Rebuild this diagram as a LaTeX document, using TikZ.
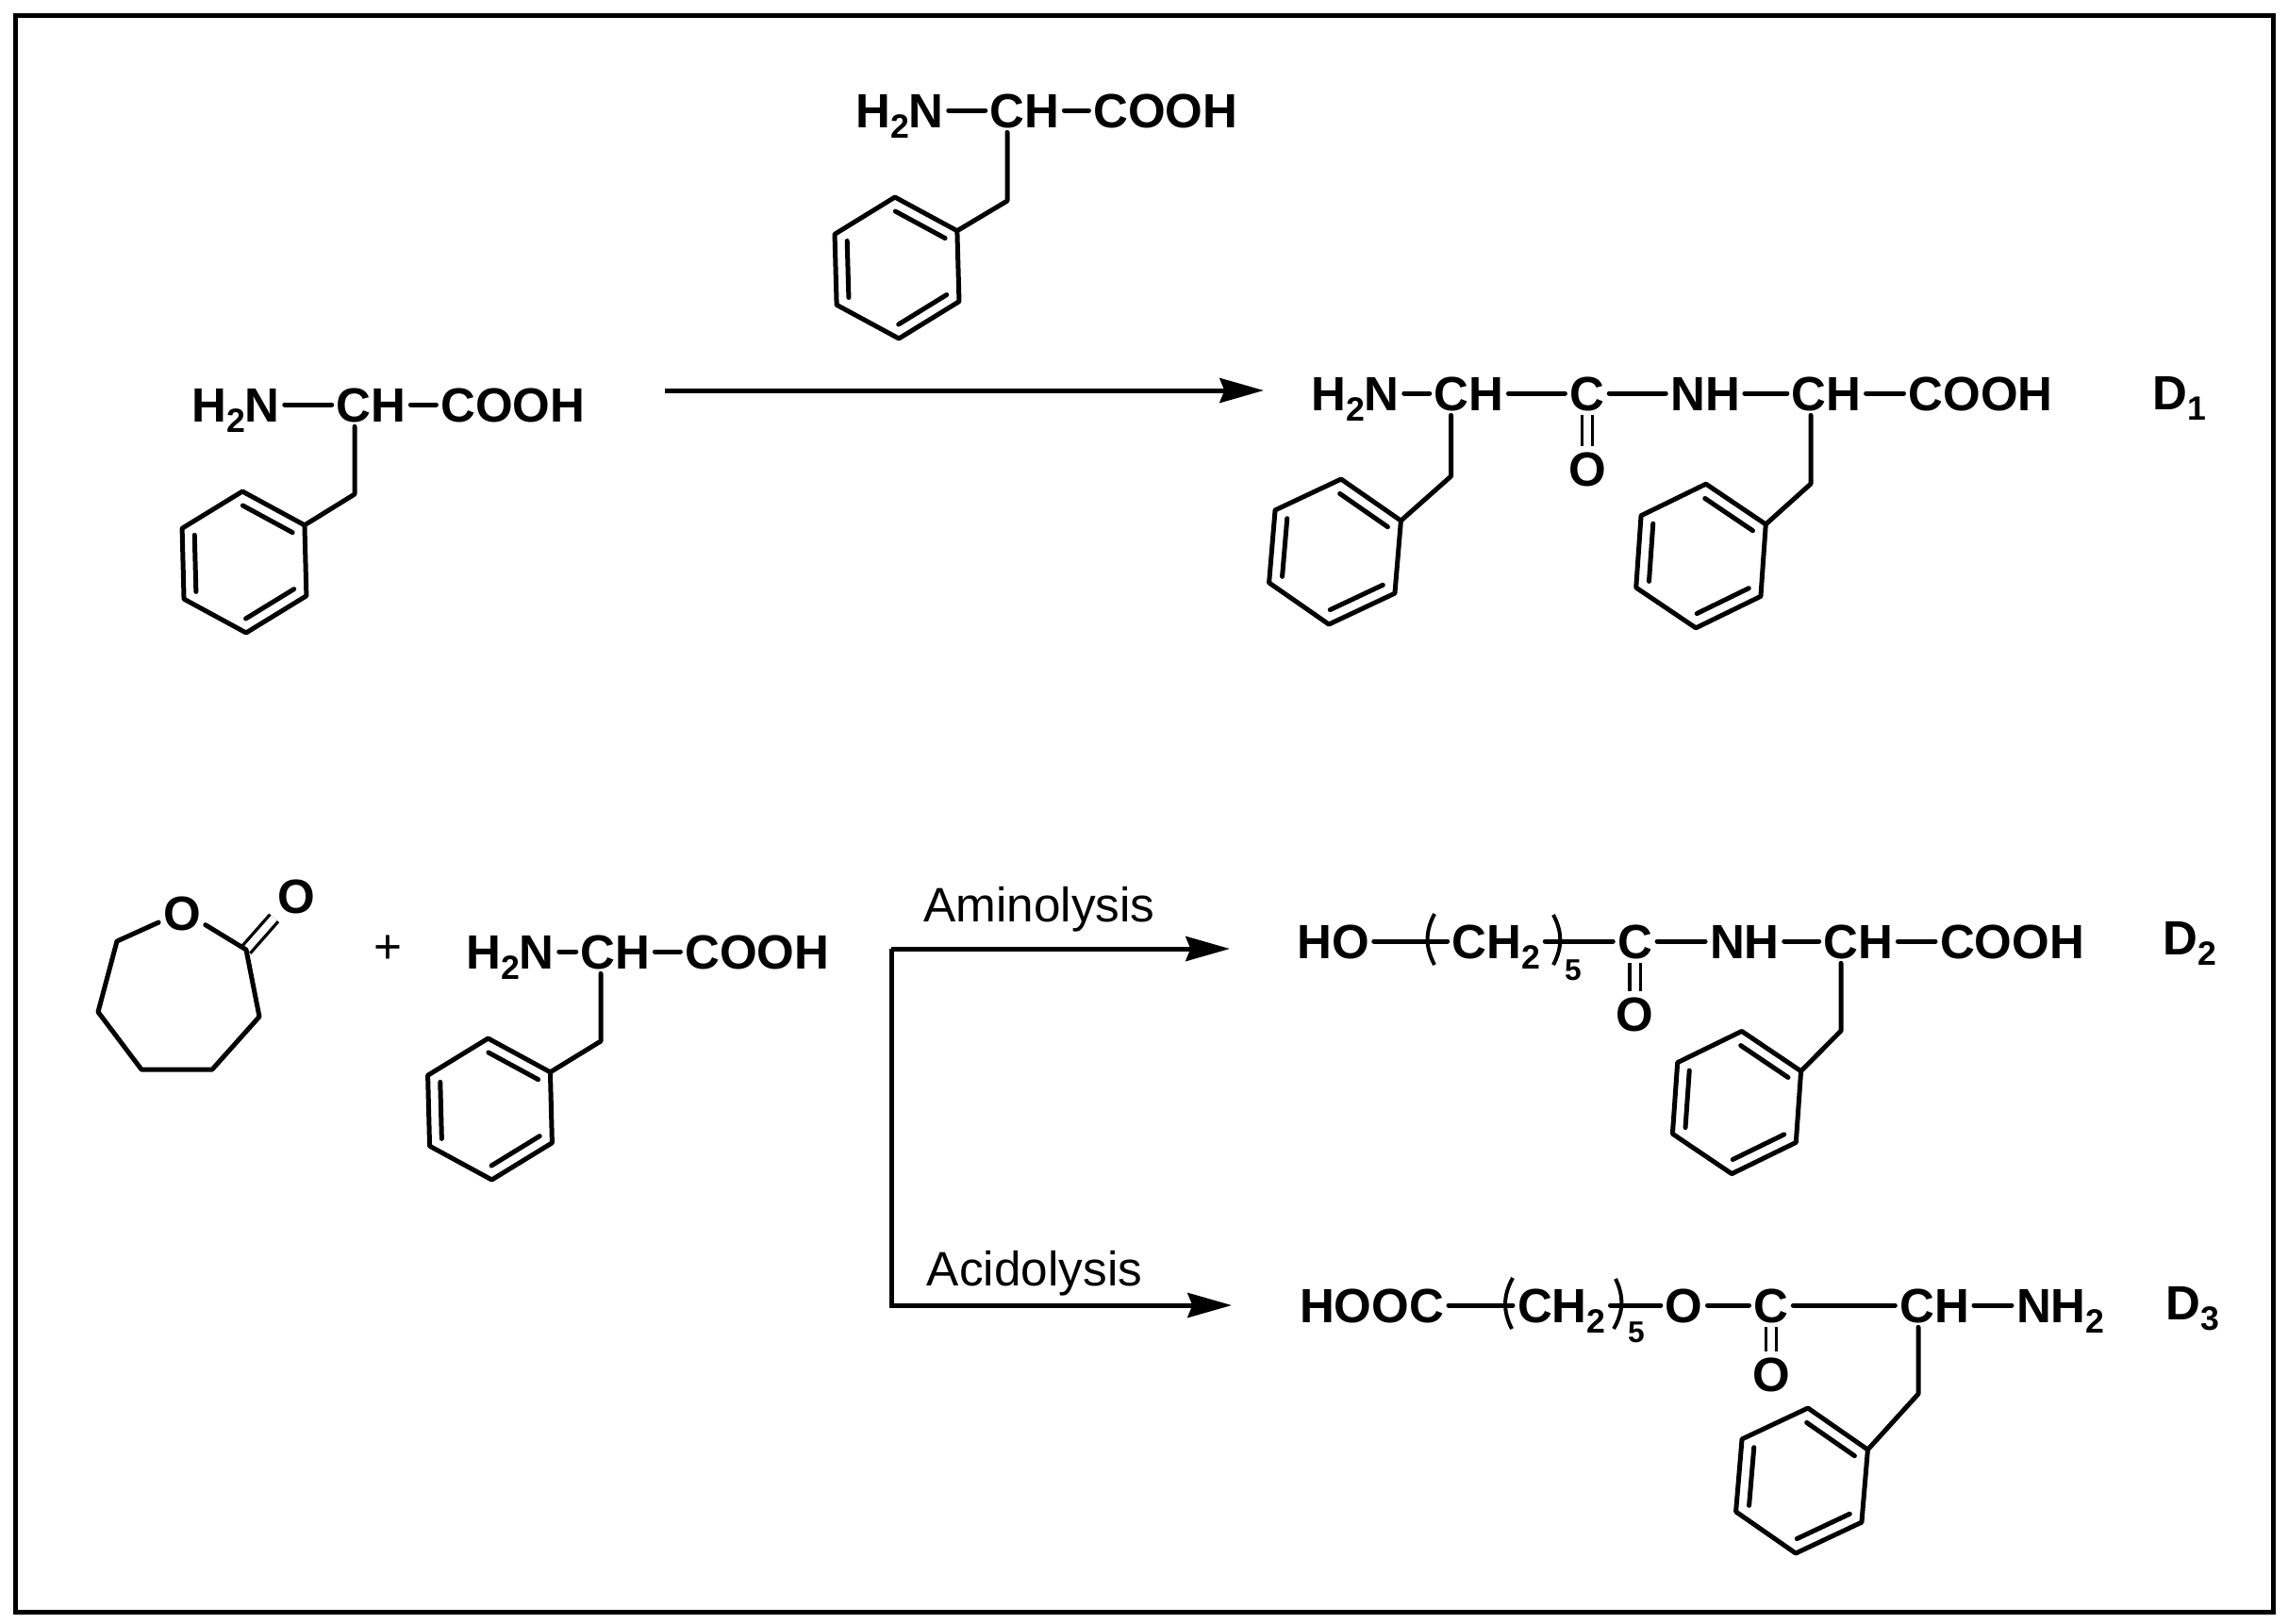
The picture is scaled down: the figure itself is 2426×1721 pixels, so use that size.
\documentclass[tikz,border=0pt]{standalone}
\usepackage{fontspec}
\setmainfont{Liberation Sans}
\usetikzlibrary{%
  positioning,
  arrows.meta,
}
\newcommand{\lowidx}[1]{\raisebox{-3.3pt}{\fontsize{10.7}{12}\selectfont #1}}

\tikzset{
  phenyl/.pic={
    \foreach \i/\a in {0/-90,1/-30,2/30,3/90,4/150,5/210}
      \coordinate (-v\i) at (\a:75);
    \draw[bond] (-v0) -- (-v1) -- (-v2) -- (-v3) -- (-v4) -- (-v5) -- cycle;
    % the three inner lines
    \foreach \a/\b in {-90/-30,30/90,150/210}
      \draw[bond] (\a:60) -- (\b:60);
  },
}

\begin{document}
\begin{tikzpicture}[%
           x=0.3pt,
           y=-0.3pt,
           atom/.style={
             % The text:
             font=\fontsize{15.3}{18}\selectfont\bfseries,
             % The size:
             inner sep=1.5pt,
             outer sep=0pt,
             text height=11pt,
             text depth=0pt,
           },
           tag/.style={
             font=\fontsize{15.3}{18}\selectfont\bfseries,
             inner sep=0pt,
             anchor=base west,
           },
           idx/.style={
             font=\fontsize{9.5}{10}\selectfont\bfseries,
             inner sep=0pt,
           },
           label/.style={
             font=\fontsize{15.4}{18}\selectfont,
             inner sep=0pt,
             anchor=base,
           },
           bond/.style={
             line width=1.5pt,
             line cap=round,
             line join=round,
           },
           dblbond/.style={
             line width=1pt,
             double,
             double distance=2.4pt,
           },
           brack/.style={
             line width=1.2pt,
           },
           reaction/.style={
             line width=1.5pt,
             -{Stealth[length=14pt,width=7.8pt,inset=1.5pt]},
           }]

         \useasboundingbox (0,0) rectangle (2426,1721);
         \draw[line width=1.5pt] (16.5,16.5) rectangle (2410.5,1709.5);

         % reagent on top
         \node[atom] (amina) at (954,117) {H\lowidx{2}N};
         \node[atom, right=11.7pt of amina] (cha) {CH};
         \node[atom, right=7.8pt of cha] (acida) {COOH};

         % left reagent
         \node[atom] (aminb) at (250,429) {H\lowidx{2}N};
         \node[atom, right=15pt of aminb] (chb) {CH};
         \node[atom, right=8.1pt of chb] (acidb) {COOH};

         % lower reagent
         \node[atom] (aminc) at (541,1009) {H\lowidx{2}N};
         \node[atom, right=5.4pt of aminc] (chc) {CH};
         \node[atom, right=8.1pt of chc] (acidc) {COOH};

         % D1
         \node[atom] (amind) at (1437,417) {H\lowidx{2}N};
         \node[atom, right=8.1pt of amind] (chd) {CH};
         \node[atom, right=18pt of chd] (cod) {C};
         \node[atom, right=18pt of cod] (nhd) {NH};
         \node[atom, right=13.5pt of nhd] (che) {CH};
         \node[atom, right=12pt of che] (acide) {COOH};
         \node[atom, below=9.9pt of cod] (oxd) {O};
         \node[tag] (taga) at (2282,434) {D\lowidx{1}};

         % D2
         \node[atom] (hyf) at (1413.5,998) {HO};
         \node[atom, right=23.4pt of hyf] (mef) {CH\lowidx{2}};
         \node[atom, right=21.6pt of mef] (cof) {C};
         \node[atom, right=15.3pt of cof] (nhf) {NH};
         \node[atom, right=11.1pt of nhf] (chf) {CH};
         \node[atom, right=11.9pt of chf] (acidf) {COOH};
         \node[atom, below=9pt of cof] (oxf) {O};
         \node[idx] (fivef) at (1668,1029) {5};
         \node[tag] (tagb) at (2293,1012) {D\lowidx{2}};

         % D3
         \node[atom] (acidg) at (1454.5,1384) {HOOC};
         \node[atom, right=20.4pt of acidg] (meg) {CH\lowidx{2}};
         \node[atom, right=16pt of meg] (estg) {O};
         \node[atom, right=13.2pt of estg] (cog) {C};
         \node[atom, right=32.4pt of cog] (chg) {CH};
         \node[atom, right=12pt of chg] (amig) {NH\lowidx{2}};
         \node[atom, below=7.8pt of cog] (oxg) {O};
         \node[idx] (fiveg) at (1735,1413) {5};
         \node[tag] (tagc) at (2296,1399) {D\lowidx{3}};

         \foreach \a/\b in {amina/cha,cha/acida,aminb/chb,chb/acidb,aminc/chc,chc/acidc,
                            amind/chd,chd/cod,cod/nhd,nhd/che,che/acide,
                            hyf/mef,mef/cof,cof/nhf,nhf/chf,chf/acidf,
                            acidg/meg,meg/estg,estg/cog,cog/chg,chg/amig}
           \draw[bond] (\a) -- (\b);
         \foreach \a/\b in {cod/oxd,cof/oxf,cog/oxg}
           \draw[dblbond] (\a) -- (\b);

         % the rings and the CH2 that holds each
         \foreach \nm/\x/\y/\r/\s/\ch/\kx/\ky in {
             ringa/951/284/1.6/1/cha/1068/213,
             ringb/259/596/1.5/1/chb/376/524,
             ringc/519.5/1176/1.5/1/chc/637/1104,
             ringd/1415.5/585/-4.8/1.03/chd/1538.5/505,
             ringe/1803.5/589.5/-4/1.02/che/1920/513,
             ringf/1841.5/1169/-4/1.01/chf/1952/1093,
             ringg/1910.5/1570/-4.8/1.03/chg/2034/1478} {
           \pic[rotate=\r, scale=\s] (\nm) at (\x,\y) {phenyl};
           \coordinate (\ch-k) at (\kx,\ky);
           \draw[bond] (\nm-v1) -- (\ch-k) -- (\ch-k |- \ch.south);
         }

         % brackets
         \draw[brack] (1521,969) to[bend right=28] (1521,1023);
         \draw[brack] (1647,970) to[bend left=28] (1647,1023);
         \draw[brack] (1604,1355) to[bend right=28] (1603,1409);
         \draw[brack] (1713,1356) to[bend left=28] (1711,1409);

         % caprolactone
         \node[atom] (olac) at (193,968) {O};
         \node[atom] (olacc) at (314,950) {O};
         \coordinate (laca) at (261,1007);
         \coordinate (lacb) at (275,1078);
         \coordinate (lacc) at (225,1134);
         \coordinate (lacd) at (150,1134);
         \coordinate (lace) at (104,1073);
         \coordinate (lacf) at (124,998);
         \draw[dblbond] (laca) -- (olacc.225);
         \draw[bond] (olac.202) -- (lacf) -- (lace) -- (lacd) -- (lacc) -- (lacb) -- (laca) -- (olac.333);
         \node[label] (plus) at (411,1021) {+};

         % arrows
         \coordinate (starta) at (705,414);
         \coordinate (enda) at (1340,414);
         \coordinate (forkt) at (945,1006);
         \coordinate (forkb) at (945,1384);
         \coordinate (endb) at (1304,1006);
         \coordinate (endc) at (1306,1384);
         \draw[reaction] (starta) -- (enda);
         \draw[reaction] (forkt) -- (endb);
         \draw[reaction] (forkt) -- (forkb) -- (endc);
         \node[label] (amlys) at (1102,977) {Aminolysis};
         \node[label] (aclys) at (1097,1363) {Acidolysis};

     \end{tikzpicture}
\end{document}
